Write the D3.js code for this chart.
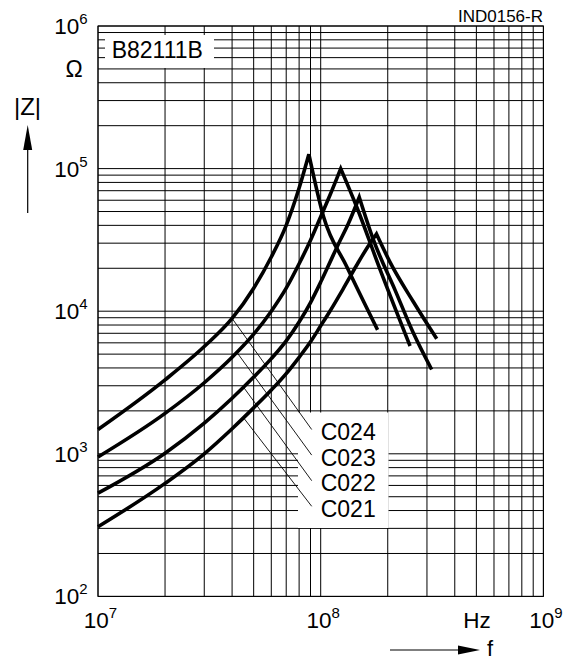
<!DOCTYPE html>
<html>
<head>
<meta charset="utf-8">
<script src="https://cdn.jsdelivr.net/npm/d3@7"></script>
<style>
  body { margin: 0; background: #fff; }
  text { font-family: "Liberation Sans", Arial, Helvetica, sans-serif; fill: #000; }
</style>
</head>
<body>
<div id="graph"></div>
<script>
// |Z| against f for the B82111B chokes
var seriesNames = ["C024", "C023", "C022", "C021"];

// frequency in Hz, impedance in Ohm (peak = resonance)
var c024Freq = [1e7, 2e7, 3e7, 4e7, 5e7, 6e7, 7e7, 8e7, 8.85e7, 1.03e8, 1.31e8, 1.8e8];
var c024Imp = [1480, 3300, 5650, 8900, 14500, 24000, 40000, 73000, 126000, 46000, 20500, 7400];

var c023Freq = [1e7, 2e7, 3e7, 4e7, 5e7, 6e7, 7e7, 8e7, 9e7, 1e8, 1.1e8, 1.23e8, 1.45e8, 1.85e8, 2.52e8];
var c023Imp = [950, 1920, 3150, 4750, 6900, 10000, 14500, 21500, 31500, 46000, 65000, 100000, 54000, 19500, 5700];

var c022Freq = [1e7, 2e7, 3e7, 4e7, 5e7, 6e7, 7e7, 8e7, 9e7, 1e8, 1.1e8, 1.2e8, 1.33e8, 1.49e8, 1.72e8, 2.16e8, 2.61e8, 3.15e8];
var c022Imp = [530, 1010, 1640, 2450, 3450, 4650, 6200, 8400, 11500, 16000, 22000, 29500, 41000, 63000, 32000, 14000, 7000, 3900];

var c021Freq = [1e7, 2e7, 3e7, 4e7, 5e7, 6e7, 7e7, 8e7, 9e7, 1e8, 1.1e8, 1.26e8, 1.45e8, 1.62e8, 1.78e8, 2.05e8, 2.61e8, 3.32e8];
var c021Imp = [308, 620, 1000, 1500, 2100, 2800, 3650, 4750, 6100, 7900, 10000, 14300, 21000, 28000, 34800, 22000, 11600, 6400];

// where the label leader lines leave each curve
var leaderFreq = [4e7, 4.2e7, 4.5e7, 4.5e7];

var xTickExp = [7, 8, 9];
var yTickExp = [2, 3, 4, 5, 6];

var frameWidth = 567,
  frameHeight = 663;
var margin = { top: 26, right: 23.6, bottom: 66.6, left: 98 },
  width = frameWidth - margin.left - margin.right,
  height = frameHeight - margin.top - margin.bottom;

var root = d3
  .select("#graph")
  .append("svg")
  .attr("width", frameWidth)
  .attr("height", frameHeight);

var svg = root
  .append("g")
  .attr("transform", "translate(" + margin.left + "," + margin.top + ")");

var xScale = d3.scaleLog().domain([1e7, 1e9]).range([0, width]);
var yScale = d3.scaleLog().domain([1e2, 1e6]).range([height, 0]);

// grid: every 1..9 multiple of each decade
var grid = svg.append("g").attr("class", "grid").attr("stroke", "#000").attr("stroke-width", 1);
grid
  .selectAll(".vline")
  .data(xScale.ticks())
  .enter()
  .append("line")
  .attr("class", "vline")
  .attr("x1", function (d) { return xScale(d); })
  .attr("x2", function (d) { return xScale(d); })
  .attr("y1", 0)
  .attr("y2", height);
grid
  .selectAll(".hline")
  .data(yScale.ticks())
  .enter()
  .append("line")
  .attr("class", "hline")
  .attr("x1", 0)
  .attr("x2", width)
  .attr("y1", function (d) { return yScale(d); })
  .attr("y2", function (d) { return yScale(d); });
svg
  .append("rect")
  .attr("width", width)
  .attr("height", height)
  .attr("fill", "none")
  .attr("stroke", "#000");

// white boxes behind the type name and the curve labels
svg.append("rect").attr("x", 7).attr("y", 9).attr("width", 109).attr("height", 33).attr("fill", "#fff");
svg.append("rect").attr("x", 200).attr("y", 386.5).attr("width", 90.5).attr("height", 115.5).attr("fill", "#fff");

svg
  .append("text")
  .attr("x", 13.7)
  .attr("y", 32.3)
  .attr("font-size", 23)
  .text("B82111B");

// curves, rising and falling side joined sharp at the peak
var line = d3
  .line()
  .x(function (d) { return xScale(d.f); })
  .y(function (d) { return yScale(d.z); })
  .curve(d3.curveMonotoneX);

function curvePath(freq, imp) {
  var pts = freq.map(function (f, i) {
    return { f: f, z: imp[i] };
  });
  var k = d3.maxIndex(imp);
  var up = line(pts.slice(0, k + 1));
  var down = line(pts.slice(k));
  return up + "L" + down.slice(1);
}

var allFreq = [c024Freq, c023Freq, c022Freq, c021Freq];
var allImp = [c024Imp, c023Imp, c022Imp, c021Imp];

svg
  .append("g")
  .attr("class", "curves")
  .selectAll("path")
  .data(seriesNames)
  .enter()
  .append("path")
  .attr("d", function (d, i) { return curvePath(allFreq[i], allImp[i]); })
  .attr("fill", "none")
  .attr("stroke", "#000")
  .attr("stroke-width", 3.6)
  .attr("stroke-linejoin", "miter");

// leader lines to the labels
function yOnCurve(freq, imp, f) {
  var k = d3.maxIndex(imp);
  var s = d3
    .scaleLinear()
    .domain(freq.slice(0, k + 1).map(function (v) { return xScale(v); }))
    .range(imp.slice(0, k + 1).map(function (v) { return yScale(v); }));
  return s(xScale(f));
}

var labelX = 222.7,
  labelY0 = 414,
  labelStep = 25.6;

svg
  .append("g")
  .attr("class", "leaders")
  .selectAll("line")
  .data(seriesNames)
  .enter()
  .append("line")
  .attr("x1", function (d, i) { return xScale(leaderFreq[i]); })
  .attr("y1", function (d, i) { return yOnCurve(allFreq[i], allImp[i], leaderFreq[i]); })
  .attr("x2", labelX - 9)
  .attr("y2", function (d, i) { return labelY0 + i * labelStep - 10.5; })
  .attr("stroke", "#000")
  .attr("stroke-width", 0.9);

svg
  .append("g")
  .attr("class", "labels")
  .selectAll("text")
  .data(seriesNames)
  .enter()
  .append("text")
  .attr("x", labelX)
  .attr("y", function (d, i) { return labelY0 + i * labelStep; })
  .attr("font-size", 23)
  .text(function (d) { return d; });

// tick labels as 10 with superscript exponent
function powLabel(sel) {
  sel.append("tspan").text("10");
  sel
    .append("tspan")
    .attr("dy", -10)
    .attr("font-size", 15)
    .text(function (d) { return d; });
}

svg
  .append("g")
  .selectAll("text")
  .data(yTickExp)
  .enter()
  .append("text")
  .attr("x", -10.5)
  .attr("y", function (d) { return yScale(Math.pow(10, d)) + 8; })
  .attr("text-anchor", "end")
  .attr("font-size", 22.5)
  .call(powLabel);

svg
  .append("g")
  .selectAll("text")
  .data(xTickExp)
  .enter()
  .append("text")
  .attr("x", function (d) { return xScale(Math.pow(10, d)) + 2.5; })
  .attr("y", height + 32)
  .attr("text-anchor", "middle")
  .attr("font-size", 22.5)
  .call(powLabel);

// axis names, units and arrows
root.append("text").attr("x", 543).attr("y", 21.7).attr("text-anchor", "end").attr("font-size", 17).text("IND0156-R");
root.append("text").attr("x", 74).attr("y", 76.7).attr("text-anchor", "middle").attr("font-size", 23).text("Ω");
root.append("text").attr("x", 27.5).attr("y", 115).attr("text-anchor", "middle").attr("font-size", 24).text("|Z|");
root.append("text").attr("x", 477).attr("y", 628).attr("text-anchor", "middle").attr("font-size", 22.5).text("Hz");
root.append("text").attr("x", 490).attr("y", 656).attr("text-anchor", "middle").attr("font-size", 22).text("f");

root.append("line").attr("x1", 27.7).attr("x2", 27.7).attr("y1", 145).attr("y2", 213).attr("stroke", "#000").attr("stroke-width", 1.2);
root.append("path").attr("d", "M27.7,125L23.2,150L32.2,150Z").attr("fill", "#000");
root.append("line").attr("x1", 390).attr("x2", 465).attr("y1", 650).attr("y2", 650).attr("stroke", "#000").attr("stroke-width", 1.2);
root.append("path").attr("d", "M480,650L458,645.5L458,654.5Z").attr("fill", "#000");
</script>
</body>
</html>
